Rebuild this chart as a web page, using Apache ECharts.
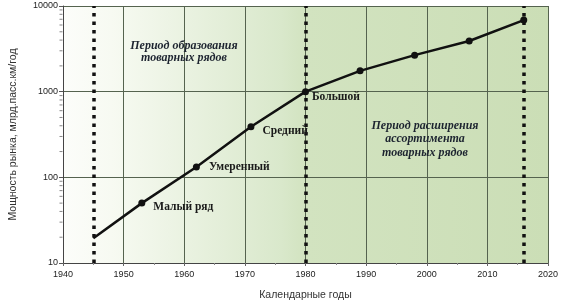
<!DOCTYPE html>
<html>
<head>
<meta charset="utf-8">
<script src="https://cdn.jsdelivr.net/npm/echarts@6/dist/echarts.min.js"></script>
<style>
  html, body { margin: 0; padding: 0; background: #fff; }
  #chart { width: 562px; height: 307px; }
</style>
</head>
<body>
<div id="chart"></div>
<script>
// годы и мощность рынка (лог. шкала)
var years = [1945, 1953, 1962, 1971, 1980, 1989, 1998, 2007, 2016];
var values = [19.5, 50, 132, 390, 1000, 1750, 2670, 3900, 6850];
var stageNames = ['', 'Малый ряд', 'Умеренный', 'Средний', 'Большой', '', '', '', ''];
var labelOffsets = [[0, 0], [2, 4], [3, 0], [2, 4], [-3, 5], [0, 0], [0, 0], [0, 0], [0, 0]];
var periodBorders = [1945, 1980, 2016]; // пунктирные границы периодов
var yMinorTicks = [20, 30, 40, 50, 60, 70, 80, 90, 200, 300, 400, 500, 600, 700, 800, 900,
                   2000, 3000, 4000, 5000, 6000, 7000, 8000, 9000];

var serif = '"Liberation Serif", "DejaVu Serif", serif';
var sans = '"Liberation Sans", Arial, sans-serif';

var lineData = [];
for (var i = 0; i < years.length; i++) {
    lineData.push({
        value: [years[i], values[i]],
        symbolSize: i === 0 ? 0 : 7,
        label: {
            show: stageNames[i] !== '',
            formatter: stageNames[i],
            offset: labelOffsets[i]
        }
    });
}

var mychart = echarts.init(document.getElementById('chart'));
var option = {
    animation: false,
    grid: {
        left: 61, right: 14, top: 6, bottom: 44,
        show: true,
        borderWidth: 0,
        backgroundColor: new echarts.graphic.LinearGradient(0, 0, 1, 0, [
            {offset: 0, color: '#fcfdfa'},
            {offset: 0.1, color: '#f7faf2'},
            {offset: 0.45, color: '#d9e8cb'},
            {offset: 0.5, color: '#d2e3c0'},
            {offset: 1, color: '#cbdeb6'}
        ])
    },
    xAxis: {
        type: 'value',
        min: 1940,
        max: 2020,
        interval: 10,
        name: 'Календарные годы',
        nameLocation: 'middle',
        nameGap: 27,
        nameTextStyle: {color: '#333', fontSize: 10.5, fontFamily: sans},
        axisLine: {onZero: false, lineStyle: {color: '#444', width: 1}},
        axisTick: {show: true, length: 3, lineStyle: {color: '#666'}},
        minorTick: {show: true, splitNumber: 2, length: 2, lineStyle: {color: '#888'}},
        axisLabel: {
            color: '#222', fontSize: 9, fontFamily: sans, margin: 7,
            formatter: function (v) { return String(v); }
        },
        splitLine: {show: true, lineStyle: {color: '#55634f', width: 1}}
    },
    yAxis: {
        type: 'log',
        logBase: 10,
        min: 10,
        max: 10000,
        name: 'Мощность рынка, млрд.пасс.км/год',
        nameLocation: 'middle',
        nameGap: 44,
        nameTextStyle: {color: '#333', fontSize: 10.5, fontFamily: sans},
        axisLine: {show: true, lineStyle: {color: '#444', width: 1}},
        axisTick: {show: true, length: 4, lineStyle: {color: '#555'}},
        axisLabel: {
            color: '#222', fontSize: 9, fontFamily: sans, margin: 5,
            formatter: function (v) { return String(Math.round(v)); }
        },
        splitLine: {show: true, lineStyle: {color: '#55634f', width: 1}}
    },
    series: [
        {
            name: 'Мощность рынка',
            type: 'line',
            data: lineData,
            symbol: 'circle',
            z: 5,
            lineStyle: {color: '#111', width: 2.5},
            itemStyle: {color: '#111'},
            label: {
                position: 'right',
                distance: 6,
                color: '#1a1a1a',
                fontSize: 11.5,
                fontWeight: 'bold',
                fontFamily: serif
            },
            markLine: {
                silent: true,
                symbol: 'none',
                label: {show: false},
                lineStyle: {color: '#111', width: 3.5, type: [3.5, 5]},
                data: periodBorders.map(function (y) { return {xAxis: y}; })
            }
        },
        {
            // малые деления логарифмической оси
            type: 'scatter',
            data: yMinorTicks.map(function (v) { return [1940, v]; }),
            symbol: 'rect',
            symbolSize: [3, 1],
            symbolOffset: [-2, 0],
            clip: false,
            silent: true,
            itemStyle: {color: '#666'},
            z: 1
        }
    ],
    graphic: [
        {
            type: 'text', x: 184, y: 40, z: 10,
            style: {
                text: 'Период образования\nтоварных рядов',
                align: 'center',
                fill: '#1d2430',
                fontStyle: 'italic', fontWeight: 'bold', fontSize: 12, fontFamily: serif,
                lineHeight: 12
            }
        },
        {
            type: 'text', x: 425, y: 119, z: 10,
            style: {
                text: 'Период расширения\nассортимента\nтоварных рядов',
                align: 'center',
                fill: '#1d2430',
                fontStyle: 'italic', fontWeight: 'bold', fontSize: 12, fontFamily: serif,
                lineHeight: 13.5
            }
        }
    ]
};
mychart.setOption(option);
</script>
</body>
</html>
